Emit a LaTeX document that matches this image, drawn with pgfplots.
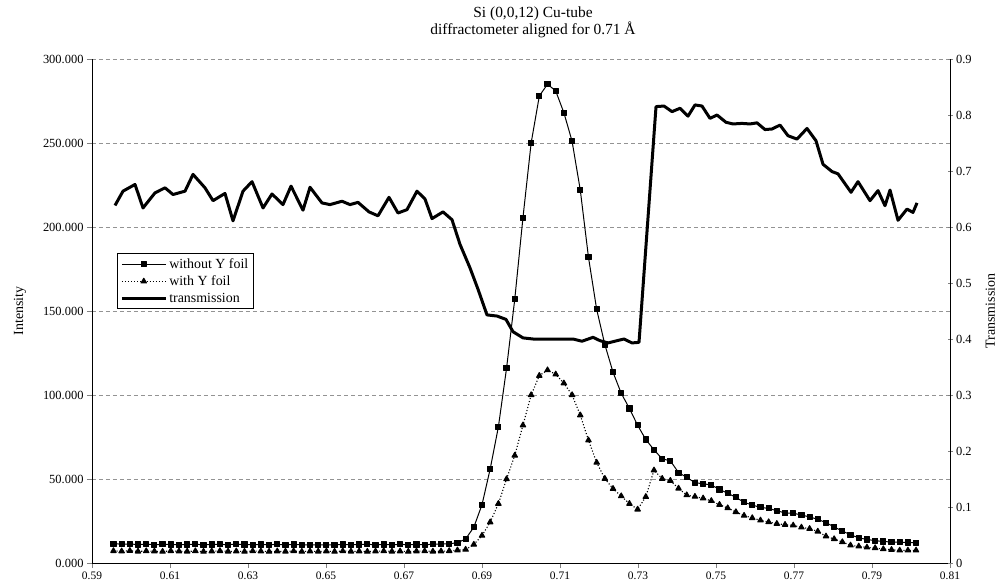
\documentclass[border=0pt]{standalone}
\usepackage{pgfplots}
\pgfplotsset{compat=1.18}
\usepackage{pgfplotstable}
\usepackage{fontspec}
\setmainfont{Liberation Serif}

\pgfplotstableread{
x I Y
0.5955 11500 7200
0.5976 11200 7000
0.5997 11300 7300
0.6018 11000 6900
0.6039 11200 7100
0.6060 10900 7000
0.6081 11100 6800
0.6102 11000 7200
0.6123 10800 7000
0.6144 11000 6900
0.6165 11100 7100
0.6186 10900 6800
0.6207 11000 7000
0.6228 11100 7200
0.6249 10900 6900
0.6270 11200 7000
0.6291 11000 6800
0.6312 10800 7100
0.6333 11000 7000
0.6354 10900 6800
0.6375 11100 7000
0.6396 10800 6900
0.6417 11000 7100
0.6438 10900 6800
0.6459 10800 7000
0.6480 10900 6900
0.6501 10700 7000
0.6522 10900 6800
0.6543 11000 7100
0.6564 10800 6900
0.6585 11000 7000
0.6606 11100 6800
0.6627 10900 7000
0.6648 11000 7100
0.6669 10800 6900
0.6690 11100 7000
0.6711 10900 6800
0.6732 11000 7000
0.6753 10800 7100
0.6774 11200 6900
0.6795 11300 7000
0.6816 11500 7200
0.6837 12000 7600
0.6858 14300 8000
0.6879 21300 11000
0.6900 34700 16300
0.6921 56000 24300
0.6942 81000 35300
0.6963 116000 50000
0.6984 157000 64000
0.7005 205500 82000
0.7026 250000 100000
0.7047 278000 111500
0.7068 285000 114800
0.7089 281000 112300
0.7110 268000 107000
0.7131 251000 100000
0.7152 222000 88000
0.7173 182000 73100
0.7194 151000 59800
0.7215 130000 50200
0.7236 113500 44200
0.7257 101000 39800
0.7278 92000 35300
0.7299 82000 31900
0.7320 73500 39400
0.7341 67400 55200
0.7362 62000 50200
0.7383 60800 49000
0.7404 53800 44400
0.7425 51000 40400
0.7446 47800 39500
0.7467 47200 38500
0.7488 46400 37000
0.7509 43800 34700
0.7530 41500 32700
0.7551 39100 30400
0.7572 36100 28200
0.7593 34500 26800
0.7614 33100 25400
0.7635 32500 24400
0.7656 31100 23400
0.7677 29800 22800
0.7698 29600 22400
0.7719 28600 21200
0.7740 27400 20400
0.7761 26000 18800
0.7782 24000 15900
0.7803 21500 14300
0.7824 19000 12500
0.7845 16800 10500
0.7866 15000 9900
0.7887 14000 9300
0.7908 13300 8900
0.7929 12800 8300
0.7950 12500 7900
0.7971 12300 7500
0.7992 12200 7500
0.8013 12100 7500
}\scandata

\pgfplotstableread{
x T
0.59590 0.6385
0.59795 0.664
0.60103 0.676
0.60308 0.634
0.60615 0.661
0.60872 0.670
0.61077 0.658
0.61385 0.664
0.61590 0.694
0.61897 0.670
0.62103 0.647
0.62410 0.660
0.62615 0.611
0.62872 0.664
0.63103 0.681
0.63385 0.634
0.63615 0.659
0.63897 0.640
0.64103 0.673
0.64410 0.630
0.64590 0.671
0.64897 0.643
0.65103 0.640
0.65410 0.646
0.65615 0.640
0.65821 0.644
0.66103 0.627
0.66333 0.620
0.66615 0.653
0.66846 0.625
0.67077 0.631
0.67333 0.664
0.67538 0.650
0.67718 0.615
0.68000 0.627
0.68231 0.613
0.68436 0.569
0.68692 0.527
0.68897 0.489
0.69128 0.443
0.69385 0.441
0.69615 0.435
0.69795 0.413
0.70051 0.402
0.70308 0.400
0.70513 0.400
0.70744 0.400
0.70949 0.400
0.71128 0.400
0.71333 0.400
0.71564 0.396
0.71846 0.403
0.72026 0.397
0.72231 0.393
0.72462 0.397
0.72641 0.400
0.72846 0.393
0.73026 0.394
0.73462 0.815
0.73667 0.816
0.73872 0.806
0.74077 0.812
0.74282 0.798
0.74462 0.818
0.74641 0.816
0.74846 0.794
0.75026 0.800
0.75256 0.787
0.75436 0.784
0.75667 0.785
0.75872 0.784
0.76051 0.786
0.76256 0.774
0.76436 0.775
0.76641 0.782
0.76846 0.763
0.77077 0.757
0.77333 0.776
0.77564 0.754
0.77744 0.712
0.77974 0.699
0.78128 0.695
0.78462 0.662
0.78641 0.681
0.78949 0.647
0.79154 0.665
0.79333 0.638
0.79462 0.666
0.79667 0.612
0.79897 0.632
0.80051 0.626
0.80154 0.643
}\transdata

\begin{document}
\begin{tikzpicture}
\pgfplotsset{
  common/.style={
    at={(0,0)}, anchor=south west,
    scale only axis, width=858bp, height=504bp,
    xmin=0.59, xmax=0.81,
    y tick label style={font=\fontsize{12.5}{14}\selectfont},
    x tick label style={font=\fontsize{11.5}{13}\selectfont},
    label style={font=\fontsize{14}{16}\selectfont},
    major tick length=5bp,
    every axis plot/.append style={line join=round},
  }
}
\begin{axis}[common, name=ax,
  ymin=0, ymax=300000,
  axis x line*=bottom, axis y line*=left,
  tick align=outside,
  xtick={0.59,0.61,0.63,0.65,0.67,0.69,0.71,0.73,0.75,0.77,0.79,0.81},
  xticklabels={0.59,0.61,0.63,0.65,0.67,0.69,0.71,0.73,0.75,0.77,0.79,0.81},
  ytick={0,50000,100000,150000,200000,250000,300000},
  yticklabels={0.000,50.000,100.000,150.000,200.000,250.000,300.000},
  scaled y ticks=false,
  ymajorgrids,
  grid style={gray!85, line width=0.7bp, dash pattern=on 4bp off 3bp},
  ylabel={Intensity},
  ylabel style={at={(axis description cs:-0.084,0.5)}, anchor=center},
  title={Si (0,0,12) Cu-tube\\diffractometer aligned for 0.71 Å},
  title style={at={(axis description cs:0.514,1)}, anchor=south, yshift=12bp,
    align=center, font=\fontsize{15.5}{15.5}\selectfont},
]
\addplot[black, line width=1bp, mark=square*, mark size=2.6bp] table[x=x,y=I]{\scandata};
\addplot[black, line width=1.1bp, dotted, mark=triangle*, mark size=3.1bp, mark options={solid}] table[x=x,y=Y]{\scandata};
\end{axis}
\begin{axis}[common,
  ymin=0, ymax=0.9,
  axis x line=none, axis y line*=right,
  tick align=center,
  ytick={0,0.1,0.2,0.3,0.4,0.5,0.6,0.7,0.8,0.9},
  yticklabels={0,0.1,0.2,0.3,0.4,0.5,0.6,0.7,0.8,0.9},
  ylabel={Transmission},
  ylabel style={at={(axis description cs:1.047,0.5)}, anchor=center},
  legend style={at={(axis description cs:0.029,0.615)}, anchor=north west,
    draw=black, line width=0.8bp, fill=white,
    font=\fontsize{14}{15}\selectfont, row sep=2bp, inner sep=3bp},
  legend cell align=left,
  legend image code/.code={\draw[mark repeat=2,mark phase=2] plot coordinates {(0bp,0bp) (22bp,0bp) (44bp,0bp)};},
]
\addlegendimage{black, line width=1bp, mark=square*, mark size=2.6bp}
\addlegendentry{without Y foil}
\addlegendimage{black, line width=1.1bp, dotted, mark=triangle*, mark size=3.1bp, mark options={solid}}
\addlegendentry{with Y foil}
\addplot[black, line width=3bp] table[x=x,y=T]{\transdata};
\addlegendentry{transmission}
\end{axis}
\pgfresetboundingbox
\path ([shift={(-92bp,-23bp)}]ax.south west) rectangle ([shift={(48bp,59bp)}]ax.north east);
\end{tikzpicture}
\end{document}
